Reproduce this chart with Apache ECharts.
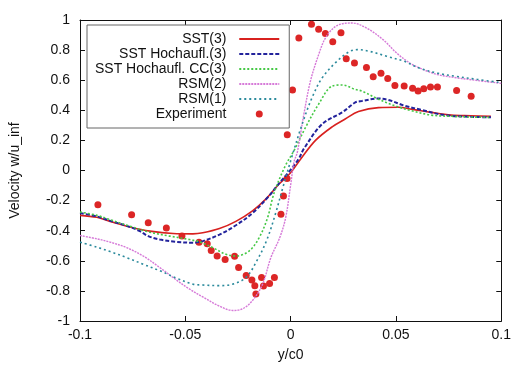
<!DOCTYPE html>
<html>
<head>
<meta charset="utf-8">
<title></title>
<script src="https://cdn.jsdelivr.net/npm/echarts@6/dist/echarts.min.js"></script>
<style>
  html, body { margin: 0; padding: 0; background: #fff; }
</style>
</head>
<body>
<div id="main" style="width:514px;height:367px;"></div>
<script>
// values, [y/c0, w/u_inf]
var sst3 = [[-0.1,-0.298],[-0.092,-0.311],[-0.0857,-0.338],[-0.0763,-0.375],[-0.0668,-0.403],[-0.0558,-0.419],[-0.0464,-0.421],[-0.0417,-0.414],[-0.0338,-0.386],[-0.026,-0.338],[-0.0181,-0.268],[-0.0118,-0.19],[-0.0055,-0.09],[0,-0.015],[0.0047,0.075],[0.0118,0.2],[0.0197,0.29],[0.0259,0.342],[0.0322,0.392],[0.0417,0.418],[0.0511,0.42],[0.0574,0.408],[0.0668,0.386],[0.0763,0.368],[0.0857,0.364],[0.0951,0.36]];
var sstHoch3 = [[-0.1,-0.283],[-0.092,-0.305],[-0.0857,-0.334],[-0.0763,-0.375],[-0.0716,-0.403],[-0.0676,-0.436],[-0.0621,-0.459],[-0.0542,-0.474],[-0.0464,-0.48],[-0.0417,-0.469],[-0.0338,-0.426],[-0.026,-0.364],[-0.0181,-0.283],[-0.0102,-0.168],[-0.0055,-0.086],[-0.0008,-0.009],[0.0039,0.079],[0.0063,0.145],[0.015,0.309],[0.0244,0.386],[0.0307,0.452],[0.0338,0.462],[0.0417,0.478],[0.0464,0.469],[0.0542,0.43],[0.0621,0.403],[0.0731,0.368],[0.0857,0.357],[0.0951,0.353]];
var sstHochCC3 = [[-0.1,-0.276],[-0.092,-0.298],[-0.0857,-0.327],[-0.0763,-0.37],[-0.0668,-0.41],[-0.0574,-0.436],[-0.048,-0.459],[-0.0433,-0.474],[-0.0369,-0.513],[-0.0307,-0.557],[-0.026,-0.568],[-0.0197,-0.535],[-0.015,-0.447],[-0.011,-0.316],[-0.0086,-0.184],[-0.0071,-0.118],[-0.0024,0.035],[0.0016,0.132],[0.0071,0.287],[0.0133,0.441],[0.0197,0.561],[0.0244,0.568],[0.0307,0.539],[0.0338,0.528],[0.0417,0.474],[0.0495,0.43],[0.0574,0.397],[0.0668,0.368],[0.0763,0.36],[0.0857,0.355],[0.0951,0.353]];
var rsm2 = [[-0.1,-0.432],[-0.092,-0.454],[-0.0857,-0.476],[-0.0778,-0.513],[-0.07,-0.568],[-0.0621,-0.645],[-0.0542,-0.728],[-0.0481,-0.787],[-0.0417,-0.84],[-0.0338,-0.901],[-0.0275,-0.93],[-0.0228,-0.919],[-0.0181,-0.864],[-0.0133,-0.755],[-0.0094,-0.579],[-0.0052,-0.447],[-0.0024,-0.316],[0,-0.097],[0.0016,0.057],[0.0032,0.123],[0.0063,0.375],[0.0094,0.594],[0.0133,0.77],[0.0165,0.88],[0.0212,0.956],[0.0259,0.978],[0.0292,0.98],[0.0362,0.945],[0.044,0.868],[0.0503,0.781],[0.0566,0.714],[0.0629,0.671],[0.0696,0.638],[0.0786,0.616],[0.0881,0.599],[0.1,0.579]];
var rsm1 = [[-0.1,-0.476],[-0.092,-0.509],[-0.0857,-0.539],[-0.0778,-0.579],[-0.07,-0.623],[-0.0621,-0.666],[-0.0542,-0.715],[-0.0464,-0.755],[-0.0417,-0.761],[-0.0338,-0.765],[-0.0275,-0.755],[-0.0212,-0.711],[-0.016,-0.599],[-0.0113,-0.461],[-0.0071,-0.283],[-0.0038,-0.118],[0.0008,0.101],[0.0055,0.309],[0.0102,0.485],[0.015,0.616],[0.0212,0.715],[0.0275,0.787],[0.0316,0.803],[0.0377,0.791],[0.0456,0.759],[0.0538,0.726],[0.0608,0.682],[0.0696,0.647],[0.0778,0.627],[0.0887,0.605],[0.1,0.584]];
var experiment = [[-0.0915,-0.228],[-0.0755,-0.294],[-0.0676,-0.347],[-0.059,-0.382],[-0.0516,-0.436],[-0.0435,-0.476],[-0.0396,-0.487],[-0.0377,-0.531],[-0.0349,-0.568],[-0.0311,-0.592],[-0.0266,-0.57],[-0.0247,-0.645],[-0.0211,-0.697],[-0.0184,-0.728],[-0.017,-0.765],[-0.0165,-0.82],[-0.0138,-0.711],[-0.0129,-0.768],[-0.01,-0.75],[-0.0077,-0.711],[-0.0046,-0.291],[-0.0034,-0.169],[-0.0017,-0.053],[-0.0016,0.237],[0.0009,0.535],[0.0039,0.88],[0.0099,0.972],[0.0133,0.939],[0.0165,0.91],[0.02,0.855],[0.0239,0.916],[0.0264,0.743],[0.0303,0.715],[0.036,0.684],[0.0392,0.623],[0.0429,0.647],[0.0461,0.612],[0.0495,0.564],[0.0539,0.561],[0.0579,0.546],[0.0605,0.528],[0.0632,0.544],[0.0664,0.555],[0.0697,0.555],[0.0788,0.531],[0.0857,0.493]];
var seriesNames = ['SST(3)', 'SST Hochaufl.(3)', 'SST Hochaufl. CC(3)', 'RSM(2)', 'RSM(1)', 'Experiment'];

var font = 'Liberation Sans, Arial, Helvetica, sans-serif';
var myChart = echarts.init(document.getElementById('main'));

function frameAxis(pos, min, max, interval, labels) {
    return {
        type: 'value', position: pos, min: min, max: max, interval: interval,
        splitLine: { show: false },
        axisLine: { show: true, onZero: false, lineStyle: { color: '#111', width: 1 } },
        axisTick: { show: true, inside: true, length: 5, lineStyle: { color: '#111' } },
        axisLabel: { show: labels, color: '#111', fontSize: 14, fontFamily: font }
    };
}

function lineSeries(name, data, color, width, dash) {
    return {
        name: name, type: 'line', data: data, symbol: 'none', smooth: 0.35,
        xAxisIndex: 0, yAxisIndex: 0,
        lineStyle: { color: color, width: width, type: dash },
        itemStyle: { color: color }
    };
}

var xBottom = frameAxis('bottom', -0.1, 0.1, 0.05, true);
xBottom.axisLabel.margin = 7;
xBottom.name = 'y/c0';
xBottom.nameLocation = 'middle';
xBottom.nameGap = 27;
xBottom.nameTextStyle = { color: '#111', fontSize: 14, fontFamily: font };

var yLeft = frameAxis('left', -1, 1, 0.2, true);
yLeft.axisLabel.margin = 10;
yLeft.name = 'Velocity w/u_inf';
yLeft.nameLocation = 'middle';
yLeft.nameGap = 58;
yLeft.nameTextStyle = { color: '#111', fontSize: 14, fontFamily: font };

// legend entries: line samples without the marker dot
var legendData = seriesNames.map(function (n, i) {
    return i < 5 ? { name: n, itemStyle: { opacity: 0 } } : { name: n };
});

myChart.setOption({
    animation: false,
    grid: { left: 78, right: 12, top: 20, bottom: 43 },
    legend: {
        left: 87, top: 25, orient: 'vertical', align: 'right',
        itemWidth: 40, itemHeight: 7, itemGap: 1,
        padding: [7, 9, 7, 8],
        borderColor: '#666', borderWidth: 1,
        backgroundColor: '#fff',
        data: legendData,
        formatter: function (n) { return n + '  '; },
        textStyle: { color: '#111', fontSize: 14, fontFamily: font, lineHeight: 14 }
    },
    xAxis: [xBottom, frameAxis('top', -0.1, 0.1, 0.05, false)],
    yAxis: [yLeft, frameAxis('right', -1, 1, 0.2, false)],
    series: [
        lineSeries(seriesNames[0], sst3, '#d8211f', 1.6, 'solid'),
        lineSeries(seriesNames[1], sstHoch3, '#23239c', 2, [4, 2]),
        lineSeries(seriesNames[2], sstHochCC3, '#45c845', 1.6, [2, 2]),
        lineSeries(seriesNames[3], rsm2, '#d67ad8', 1.4, [2, 1]),
        lineSeries(seriesNames[4], rsm1, '#2b8a9c', 1.6, [2, 3]),
        {
            name: seriesNames[5], type: 'scatter', data: experiment,
            symbol: 'circle', symbolSize: 7,
            itemStyle: { color: '#dc2626', opacity: 1 }
        }
    ]
});
</script>
</body>
</html>
